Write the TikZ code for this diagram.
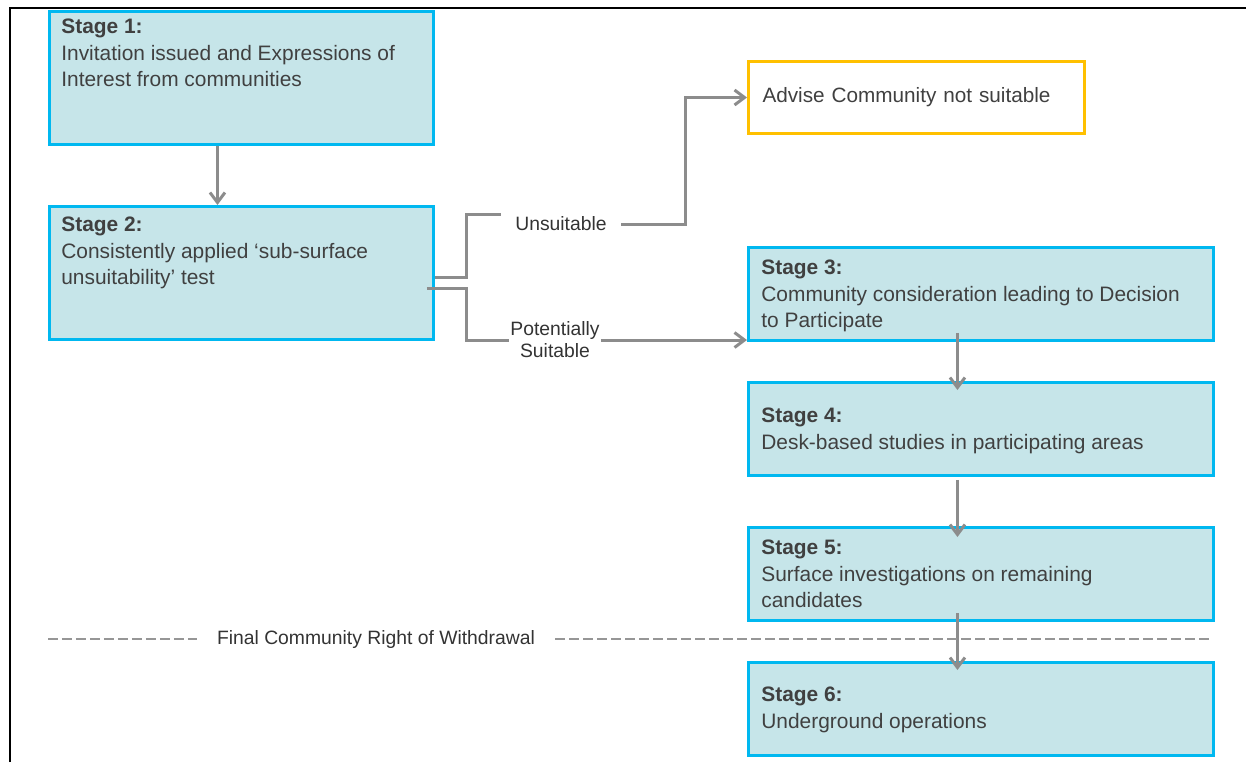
\documentclass[tikz,border=0pt]{standalone}
\usepackage{fontspec}
\setmainfont{Liberation Sans}
\usetikzlibrary{arrows.meta}

\definecolor{stagefill}{RGB}{198,229,233}
\definecolor{stageline}{RGB}{0,184,240}
\definecolor{advline}{RGB}{255,192,0}
\definecolor{arrgray}{RGB}{140,140,140}
\definecolor{dashgray}{RGB}{150,150,150}
\definecolor{txtgray}{RGB}{64,64,64}

\begin{document}
\begin{tikzpicture}[x=0.02cm,y=-0.02cm,
stagebox/.style={draw=stageline,fill=stagefill,line width=0.06cm,anchor=north west,
  minimum width=9.3cm,minimum height=1.86cm,inner sep=0pt},
bigbox/.style={stagebox,minimum width=7.68cm,minimum height=2.66cm},
stagetext/.style={anchor=north west,inner sep=0pt,align=left,text=txtgray,
  font=\fontsize{11.9}{15}\selectfont},
advbox/.style={draw=advline,fill=white,line width=0.06cm,anchor=north west,
  minimum width=6.72cm,minimum height=1.44cm,inner xsep=0.28cm,inner ysep=0pt,
  text width=6.16cm,align=left,text=txtgray,font=\fontsize{11.8}{15}\selectfont},
lbl/.style={inner ysep=0pt,align=center,text=black!80,font=\fontsize{11}{12.5}\selectfont},
line/.style={draw=arrgray,line width=0.06cm},
arr/.style={line,-{Straight Barb[length=0.2cm,width=0.3cm]}},
wdline/.style={draw=dashgray,line width=0.05cm,dash pattern=on 0.2cm off 0.08cm}]
\useasboundingbox (0,0) rectangle (1246,762);
% frame
\draw[line width=0.05cm] (10,762) -- (10,8) -- (1246,8);

% boxes
\node[bigbox] (s1) at (48,10) {};
\node[bigbox] (s2) at (48,205) {};
\node[advbox] (adv) at (747,60) {Advise Community not suitable};
\node[stagebox] (s3) at (747,246) {};
\node[stagebox] (s4) at (747,381) {};
\node[stagebox] (s5) at (747,526) {};
\node[stagebox] (s6) at (747,661) {};

\node[stagetext] (t1) at (61,19) {\textbf{Stage 1:}\\Invitation issued and Expressions of\\Interest from communities};
\node[stagetext] (t2) at (61,217) {\textbf{Stage 2:}\\Consistently applied `sub-surface\\unsuitability' test};
\node[stagetext] (t3) at (761,260) {\textbf{Stage 3:}\\Community consideration leading to Decision\\to Participate};
\node[stagetext] (t4) at (761,408) {\textbf{Stage 4:}\\Desk-based studies in participating areas};
\node[stagetext] (t5) at (761,540) {\textbf{Stage 5:}\\Surface investigations on remaining\\candidates};
\node[stagetext] (t6) at (761,687) {\textbf{Stage 6:}\\Underground operations};

% labels
\node[lbl,inner xsep=0.28cm] (unsuit) at (561,224) {Unsuitable};
\node[lbl,inner xsep=0.02cm] (pot) at (555,340) {Potentially\\Suitable};
\node[lbl,inner xsep=0.4cm] (wd) at (376,639) {Final Community Right of Withdrawal};

% connectors
\draw[arr] ([xshift=-0.48cm]s1.south) -- ([xshift=-0.48cm]s2.north);
\draw[line] ([yshift=-0.1cm]s2.east) -| ([xshift=-0.7cm,yshift=0.2cm]unsuit.west) -- ([yshift=0.2cm]unsuit.west);
\draw[arr] (unsuit.east) -- ++(64,0) |- (adv.west);
\draw[line] ([xshift=-0.16cm,yshift=-0.32cm]s2.east) -| ([xshift=-0.86cm]pot.west) -- (pot.west);
\draw[arr] (pot.east) -- (pot.east -| s3.west);
\draw[arr] ([xshift=-0.47cm,yshift=0.18cm]s3.south) -- ([xshift=-0.47cm,yshift=-0.18cm]s4.north);
\draw[arr] ([xshift=-0.47cm,yshift=-0.06cm]s4.south) -- ([xshift=-0.47cm,yshift=-0.22cm]s5.north);
\draw[arr] ([xshift=-0.47cm,yshift=0.18cm]s5.south) -- ([xshift=-0.47cm,yshift=-0.18cm]s6.north);

% withdrawal line
\draw[wdline] (48,639) -- (wd.west);
\draw[wdline] (wd.east) -- (1212,639);
\end{tikzpicture}
\end{document}
